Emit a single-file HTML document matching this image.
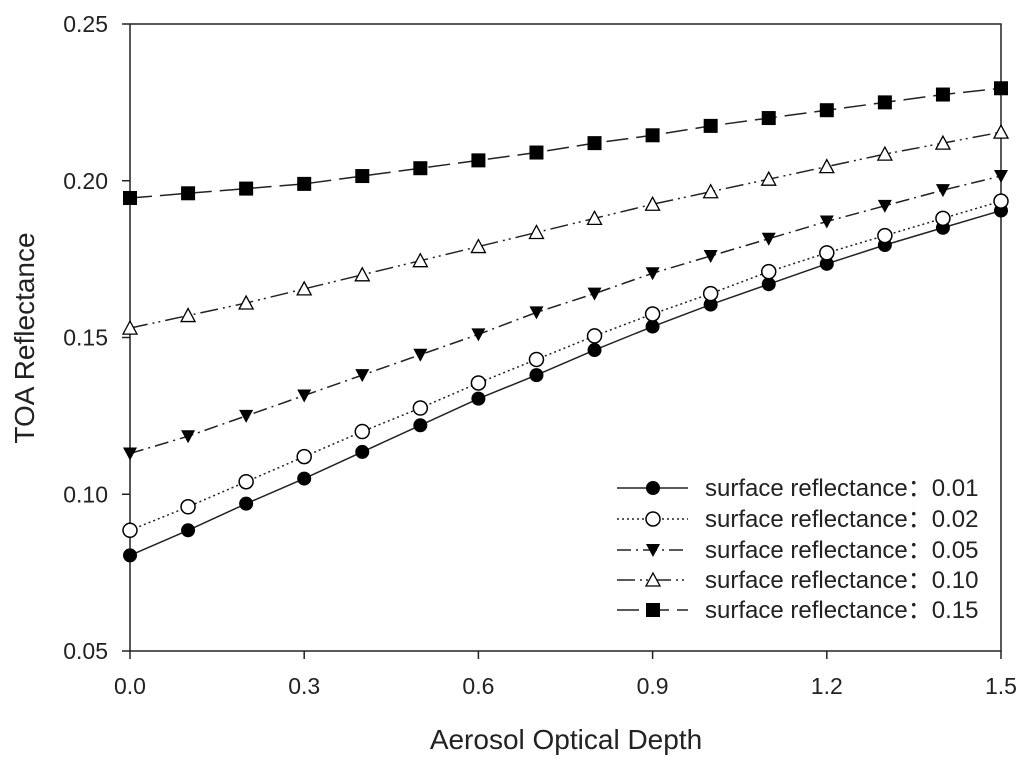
<!DOCTYPE html>
<html><head><meta charset="utf-8"><style>
body{margin:0;background:#fff}
svg text{font-family:"Liberation Sans","Noto Sans CJK SC",sans-serif;fill:#222}
</style></head><body>
<svg id="c" width="1024" height="763"></svg>
<script>
const xs=[0,0.1,0.2,0.3,0.4,0.5,0.6,0.7,0.8,0.9,1.0,1.1,1.2,1.3,1.4,1.5];
const s001=[0.0805,0.0885,0.097,0.105,0.1135,0.122,0.1305,0.138,0.146,0.1535,0.1605,0.167,0.1735,0.1795,0.185,0.1905];
const s002=[0.0885,0.096,0.104,0.112,0.120,0.1275,0.1355,0.143,0.1505,0.1575,0.164,0.171,0.177,0.1825,0.188,0.1935];
const s005=[0.113,0.1185,0.125,0.1315,0.138,0.1445,0.151,0.158,0.164,0.1705,0.176,0.1815,0.187,0.192,0.197,0.2015];
const s010=[0.153,0.157,0.161,0.1655,0.170,0.1745,0.179,0.1835,0.188,0.1925,0.1965,0.2005,0.2045,0.2085,0.212,0.2155];
const s015=[0.1945,0.196,0.1975,0.199,0.2015,0.204,0.2065,0.209,0.212,0.2145,0.2175,0.220,0.2225,0.225,0.2275,0.2295];
const xTicks=[0,0.3,0.6,0.9,1.2,1.5];
const yTicks=[0.05,0.10,0.15,0.20,0.25];
const labels=["surface reflectance：0.01","surface reflectance：0.02","surface reflectance：0.05","surface reflectance：0.10","surface reflectance：0.15"];

const L=130,R=1001,T=24,B=651;
const X=v=>L+(v-0)/1.5*(R-L);
const Y=v=>B-(v-0.05)/0.2*(B-T);
const svg=document.getElementById('c');
const NS='http://www.w3.org/2000/svg';
function mk(t,a,p){const e=document.createElementNS(NS,t);for(const k in a)e.setAttribute(k,a[k]);(p||svg).appendChild(e);return e;}

let e=mk('rect',{x:L,y:T,width:R-L,height:B-T,fill:'none',stroke:'#222','stroke-width':1.5});


yTicks.forEach(v=>{
  mk('line',{x1:L-8,x2:L,y1:Y(v),y2:Y(v),stroke:'#222','stroke-width':1.5});
  const t=mk('text',{x:108,y:Y(v)+8,'text-anchor':'end','font-size':23});
  t.textContent=v.toFixed(2);
  
  
});
xTicks.forEach(v=>{
  mk('line',{x1:X(v),x2:X(v),y1:B,y2:B+8,stroke:'#222','stroke-width':1.5});
  const t=mk('text',{x:X(v),y:694,'text-anchor':'middle','font-size':23});
  t.textContent=v.toFixed(1);
  
  
});
let t=mk('text',{x:566,y:749,'text-anchor':'middle','font-size':28});
t.textContent='Aerosol Optical Depth';


t=mk('text',{x:0,y:0,'text-anchor':'middle','font-size':28,transform:'translate(34,338) rotate(-90)'});
t.textContent='TOA Reflectance';



function marker(kind,x,y,g){
  if(kind==='dot')mk('circle',{cx:x,cy:y,r:7,fill:'#000'},g);
  else if(kind==='ring')mk('circle',{cx:x,cy:y,r:7,fill:'#fff',stroke:'#000','stroke-width':1.5},g);
  else if(kind==='tri-down')mk('polygon',{points:`${x-7},${y-6} ${x+7},${y-6} ${x},${y+7}`,fill:'#000'},g);
  else if(kind==='tri-up')mk('polygon',{points:`${x-7},${y+6} ${x+7},${y+6} ${x},${y-7}`,fill:'#fff',stroke:'#000','stroke-width':1.3},g);
  else mk('rect',{x:x-7,y:y-7,width:14,height:14,fill:'#000'},g);
}
const series=[[s001,'dot','none','series-0-01'],[s002,'ring','2,3','series-0-02'],[s005,'tri-down','14,5,2,5','series-0-05'],[s010,'tri-up','18,5,2,4,2,5','series-0-10'],[s015,'square','22,8','series-0-15']];
series.forEach((s,i)=>{
  const g=mk('g',{});
  
  
  const pts=xs.map((x,j)=>X(x)+','+Y(s[0][j])).join(' ');
  mk('polyline',{points:pts,fill:'none',stroke:'#222','stroke-width':1.5,'stroke-dasharray':s[2]},g);
  xs.forEach((x,j)=>marker(s[1],X(x),Y(s[0][j]),g));
  const ly=[488,519,550,580,610][i];
  const lg=mk('g',{});
  
  
  mk('line',{x1:617,x2:688,y1:ly,y2:ly,stroke:'#222','stroke-width':1.5,'stroke-dasharray':s[2]},lg);
  marker(s[1],653,ly,lg);
  const lt=mk('text',{x:705,y:ly+8,'font-size':24},lg);
  lt.textContent=labels[i];
});
</script>
</body></html>
